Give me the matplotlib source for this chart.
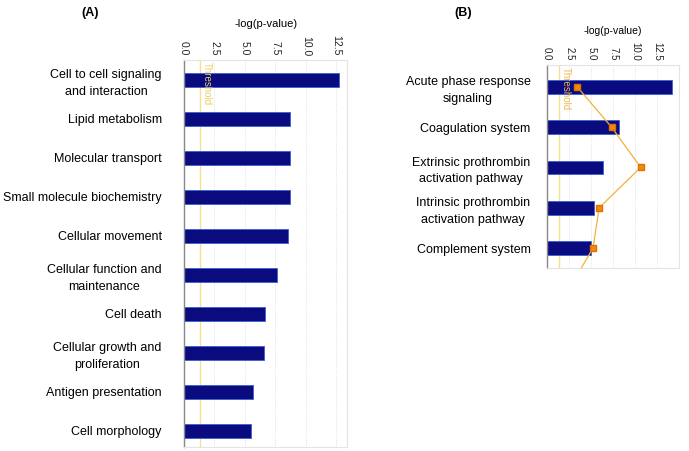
import matplotlib.pyplot as plt

plt.rcParams['font.family'] = ['Liberation Sans', 'DejaVu Sans']

# panel A data
funcs_a = ["Cell to cell signaling\nand interaction", "Lipid metabolism",
           "Molecular transport", "Small molecule biochemistry",
           "Cellular movement", "Cellular function and\nmaintenance",
           "Cell death", "Cellular growth and\nproliferation",
           "Antigen presentation", "Cell morphology"]
vals_a = [12.75, 8.7, 8.7, 8.7, 8.5, 7.6, 6.65, 6.6, 5.7, 5.5]

# panel B data
paths_b = ["Acute phase response\nsignaling", "Coagulation system",
           "Extrinsic prothrombin\nactivation pathway",
           "Intrinsic prothrombin\nactivation pathway", "Complement system"]
vals_b = [14.2, 8.2, 6.3, 5.3, 5.0]
ratio_b = [3.4, 7.3, 10.6, 5.9, 5.2, 2.5]  # last point falls below the plot

threshold = 1.3
ticks = [0.0, 2.5, 5.0, 7.5, 10.0, 12.5]
tick_labels = ["0.0", "2.5", "5.0", "7.5", "10.0", "12.5"]

bar_col = '#0b0b80'
bar_edge = '#3c5fd6'
thr_col = '#f2e38a'

fig = plt.figure(figsize=(6.89, 4.51), dpi=100)


def style_axes(ax, xmax, nrows, top_pad, bot_pad, thr_text_col, tfs, lfs, ypad):
    ax.set_xlim(0, xmax)
    ax.set_ylim(nrows - 1 + bot_pad, -top_pad)
    ax.xaxis.tick_top()
    ax.xaxis.set_label_position('top')
    ax.set_xticks(ticks)
    ax.set_xticklabels(tick_labels, rotation=-90, fontsize=tfs, color='#222222')
    ax.tick_params(axis='x', length=0, pad=3)
    ax.tick_params(axis='y', length=0, pad=ypad)
    ax.set_xlabel("-log(p-value)", fontsize=lfs, labelpad=6)
    for t in ticks[1:]:
        ax.axvline(t, color='#d8d8e0', lw=0.6, ls=':', zorder=0)
    ax.axvline(threshold, color=thr_col, lw=1.0, zorder=1)
    ax.text(threshold + 0.2, -top_pad + 0.05, "Threshold", rotation=-90,
            fontsize=7, color=thr_text_col, va='top', ha='left', zorder=4)
    for s in ['top', 'right', 'bottom']:
        ax.spines[s].set_color('#e4e4e4')
        ax.spines[s].set_linewidth(0.8)
    ax.spines['left'].set_color('#888888')
    ax.spines['left'].set_linewidth(1.0)


# panel A
ax1 = fig.add_axes([0.267, 0.009, 0.237, 0.858])
ax1.barh(range(len(vals_a)), vals_a, height=0.34, color=bar_col,
         edgecolor=bar_edge, linewidth=0.6, zorder=2)
ax1.set_yticks(range(len(vals_a)))
ax1.set_yticklabels(funcs_a, fontsize=9, ha='right', multialignment='center',
                    linespacing=1.5)
style_axes(ax1, 13.4, len(vals_a), 0.51, 0.41, '#e8d060', 7.5, 8, 16)

# panel B
ax2 = fig.add_axes([0.794, 0.406, 0.191, 0.450])
ax2.barh(range(len(vals_b)), vals_b, height=0.34, color=bar_col,
         edgecolor=bar_edge, linewidth=0.6, zorder=2)
ax2.plot(ratio_b, range(len(ratio_b)), color='#f2b23a', lw=0.9, marker='s',
         markersize=5, markerfacecolor='#f08a10', markeredgecolor='#e07000',
         zorder=3, clip_on=True)
ax2.set_yticks(range(len(vals_b)))
ax2.set_yticklabels(paths_b, fontsize=9, ha='right', multialignment='center',
                    linespacing=1.5)
style_axes(ax2, 14.9, len(vals_b), 0.54, 0.49, '#f0b848', 7, 7.5, 12)

fig.text(0.118, 0.965, "(A)", fontsize=9, fontweight='bold')
fig.text(0.660, 0.965, "(B)", fontsize=9, fontweight='bold')

fig.savefig('out.png', dpi=100)
